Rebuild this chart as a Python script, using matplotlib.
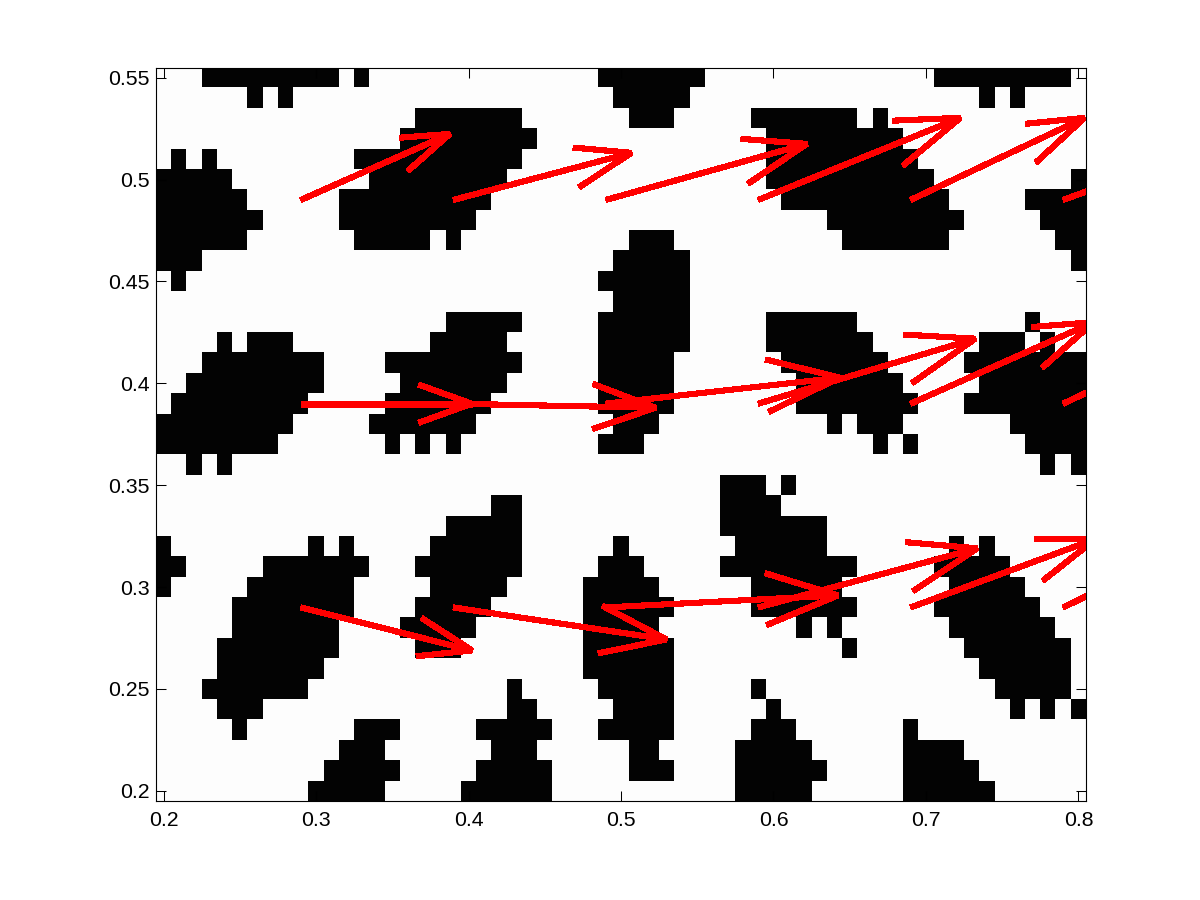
import numpy as np
import matplotlib
matplotlib.use("Agg")
import matplotlib.pyplot as plt

plt.rcParams['font.family'] = ['Liberation Sans', 'DejaVu Sans']

# Black cells per row, top row (y = 0.55) first, as inclusive column runs (x = 0.20 + 0.01 * col)
black_runs = [
    [(3, 11), (13, 13), (29, 35), (51, 59)],
    [(6, 6), (8, 8), (30, 34), (54, 54), (56, 56)],
    [(17, 23), (31, 33), (39, 45), (47, 47)],
    [(16, 24), (40, 48)],
    [(1, 1), (3, 3), (13, 23), (40, 49)],
    [(0, 4), (14, 22), (40, 50), (60, 60)],
    [(0, 5), (12, 21), (41, 51), (57, 60)],
    [(0, 6), (12, 20), (44, 52), (58, 60)],
    [(0, 5), (13, 17), (19, 19), (31, 33), (45, 51), (59, 60)],
    [(0, 2), (30, 34), (60, 60)],
    [(1, 1), (29, 34)],
    [(30, 34)],
    [(19, 23), (29, 34), (40, 45), (57, 57)],
    [(4, 4), (6, 8), (18, 22), (29, 34), (40, 46), (54, 56), (58, 58)],
    [(3, 10), (15, 23), (29, 33), (41, 47), (53, 60)],
    [(2, 10), (16, 22), (29, 33), (42, 48), (54, 60)],
    [(1, 9), (15, 21), (29, 33), (42, 49), (53, 60)],
    [(0, 8), (14, 20), (30, 32), (44, 44), (46, 48), (56, 60)],
    [(0, 7), (15, 15), (17, 17), (19, 19), (29, 31), (47, 47), (49, 49), (57, 60)],
    [(2, 2), (4, 4), (58, 58), (60, 60)],
    [(37, 39), (41, 41)],
    [(22, 23), (37, 40)],
    [(19, 23), (37, 43)],
    [(0, 0), (10, 10), (12, 12), (18, 23), (30, 30), (38, 43), (52, 52), (54, 54)],
    [(0, 1), (7, 13), (17, 23), (29, 31), (37, 45), (51, 55)],
    [(0, 0), (6, 12), (18, 22), (28, 32), (39, 44), (52, 56)],
    [(5, 12), (17, 21), (28, 33), (39, 45), (51, 57)],
    [(5, 11), (16, 20), (28, 32), (42, 42), (44, 44), (52, 58)],
    [(4, 11), (17, 19), (28, 33), (45, 45), (53, 59)],
    [(4, 10), (28, 33), (54, 59)],
    [(3, 9), (23, 23), (29, 33), (39, 39), (55, 59)],
    [(4, 6), (23, 24), (30, 33), (40, 40), (56, 56), (58, 58), (60, 60)],
    [(5, 5), (13, 15), (21, 25), (29, 33), (39, 41), (49, 49)],
    [(12, 14), (22, 24), (31, 32), (38, 42), (49, 52)],
    [(11, 15), (21, 25), (31, 33), (38, 43), (49, 53)],
    [(10, 14), (20, 25), (38, 42), (49, 54)],
]

# Arrow field, one row per y level
arrow_x = [0.29, 0.39, 0.49, 0.59, 0.69, 0.79]
arrow_y = [0.29, 0.39, 0.49]
arrow_u = [
    [0.1122, 0.1397, 0.1522, 0.1436, 0.1215, 0.110],
    [0.1120, 0.1325, 0.1535, 0.1423, 0.1200, 0.110],
    [0.0977, 0.1167, 0.1318, 0.1325, 0.1140, 0.110],
]
arrow_v = [
    [-0.0211, -0.0157, 0.0059, 0.0290, 0.0337, 0.040],
    [0.0000, -0.0020, 0.0128, 0.0319, 0.0400, 0.039],
    [0.0324, 0.0231, 0.0275, 0.0403, 0.0403, 0.030],
]

x_ticks = [0.2, 0.3, 0.4, 0.5, 0.6, 0.7, 0.8]
x_tick_labels = ['0.2', '0.3', '0.4', '0.5', '0.6', '0.7', '0.8']
y_ticks = [0.2, 0.25, 0.3, 0.35, 0.4, 0.45, 0.5, 0.55]
y_tick_labels = ['0.2', '0.25', '0.3', '0.35', '0.4', '0.45', '0.5', '0.55']

HEAD_ALPHA = 0.31
HEAD_BETA = 0.27

grid = np.full((len(black_runs), 61), 0.992)
for r, runs in enumerate(black_runs):
    for a, b in runs:
        grid[r, a:b + 1] = 0.012

fig = plt.figure(figsize=(12, 9), dpi=100)
ax = fig.add_axes([0.13, 0.11, 0.775, 0.815])
ax.imshow(grid, cmap='gray', vmin=0, vmax=1, origin='upper', interpolation='nearest',
          extent=(0.195, 0.805, 0.195, 0.555), aspect='auto', zorder=1)

for j, y0 in enumerate(arrow_y):
    for i, x0 in enumerate(arrow_x):
        u, v = arrow_u[j][i], arrow_v[j][i]
        tx, ty = x0 + u, y0 + v
        h1x = tx - HEAD_ALPHA * (u + HEAD_BETA * v)
        h1y = ty - HEAD_ALPHA * (v - HEAD_BETA * u)
        h2x = tx - HEAD_ALPHA * (u - HEAD_BETA * v)
        h2y = ty - HEAD_ALPHA * (v + HEAD_BETA * u)
        style = dict(color='#ff0000', lw=3.7, solid_capstyle='butt', solid_joinstyle='bevel',
                     antialiased=False, zorder=3)
        ax.plot([x0, tx], [y0, ty], **style)
        ax.plot([h1x, tx, h2x], [h1y, ty, h2y], **style)

ax.set_xlim(0.195, 0.805)
ax.set_ylim(0.195, 0.555)
ax.set_xticks(x_ticks)
ax.set_xticklabels(x_tick_labels)
ax.set_yticks(y_ticks)
ax.set_yticklabels(y_tick_labels)
ax.tick_params(axis='both', which='major', direction='in', length=7.2, width=0.75,
               top=True, right=True, labelsize=15.3, pad=4.5, color='black', labelcolor='black')
ax.tick_params(axis='x', pad=7)
for s in ax.spines.values():
    s.set_linewidth(0.8)
    s.set_zorder(5)

fig.savefig('out.png', dpi=100, facecolor='white')
